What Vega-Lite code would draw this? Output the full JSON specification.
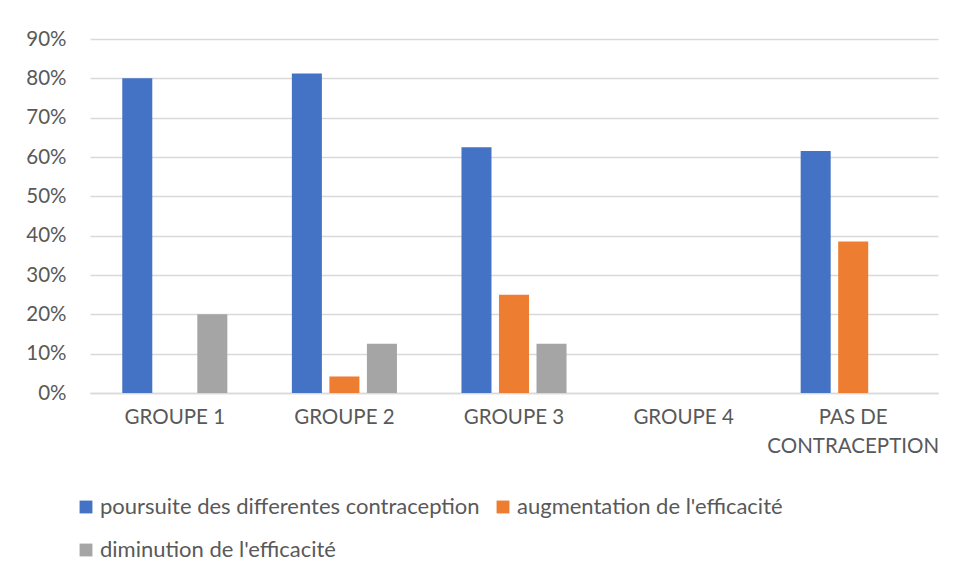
{
  "$schema": "https://vega.github.io/schema/vega-lite/v6.json",
  "autosize": {"type": "none"},
  "width": 848,
  "height": 354,
  "padding": {"left": 90, "top": 39, "right": 17, "bottom": 185},
  "background": "white",
  "config": {
    "view": {"stroke": null},
    "font": "Lato",
    "axis": {"labelFont": "Lato", "labelColor": "#595959", "labelFontSize": 20.5},
    "legend": {"labelFont": "Lato", "labelColor": "#595959", "labelFontSize": 22}
  },
  "data": {
    "values": [
      {"groupe": "GROUPE 1", "serie": "poursuite des differentes contraception", "valeur": 0.80},
      {"groupe": "GROUPE 1", "serie": "diminution de l'efficacité", "valeur": 0.20},
      {"groupe": "GROUPE 2", "serie": "poursuite des differentes contraception", "valeur": 0.8125},
      {"groupe": "GROUPE 2", "serie": "augmentation de l'efficacité", "valeur": 0.042},
      {"groupe": "GROUPE 2", "serie": "diminution de l'efficacité", "valeur": 0.125},
      {"groupe": "GROUPE 3", "serie": "poursuite des differentes contraception", "valeur": 0.625},
      {"groupe": "GROUPE 3", "serie": "augmentation de l'efficacité", "valeur": 0.25},
      {"groupe": "GROUPE 3", "serie": "diminution de l'efficacité", "valeur": 0.125},
      {"groupe": "PAS DE CONTRACEPTION", "serie": "poursuite des differentes contraception", "valeur": 0.615},
      {"groupe": "PAS DE CONTRACEPTION", "serie": "augmentation de l'efficacité", "valeur": 0.385}
    ]
  },
  "mark": {"type": "bar"},
  "encoding": {
    "x": {
      "field": "groupe",
      "type": "nominal",
      "title": null,
      "scale": {"domain": ["GROUPE 1", "GROUPE 2", "GROUPE 3", "GROUPE 4", "PAS DE CONTRACEPTION"], "paddingInner": 0, "paddingOuter": 0},
      "axis": {
        "labelAngle": 0,
        "ticks": false,
        "domain": true,
        "domainColor": "#d9d9d9",
        "domainWidth": 1.5,
        "labelPadding": 14,
        "labelLineHeight": 29,
        "labelBaseline": "top",
        "labelExpr": "datum.value == 'PAS DE CONTRACEPTION' ? ['PAS DE', 'CONTRACEPTION'] : datum.value"
      }
    },
    "xOffset": {
      "field": "serie",
      "type": "nominal",
      "scale": {"domain": ["poursuite des differentes contraception", "augmentation de l'efficacité", "diminution de l'efficacité"], "paddingInner": 0.2, "paddingOuter": 0.86}
    },
    "y": {
      "field": "valeur",
      "type": "quantitative",
      "title": null,
      "scale": {"domain": [0, 0.9], "nice": false},
      "axis": {
        "format": ".0%",
        "values": [0, 0.1, 0.2, 0.3, 0.4, 0.5, 0.6, 0.7, 0.8, 0.9],
        "ticks": false,
        "domain": false,
        "grid": true,
        "gridColor": "#d9d9d9",
        "gridWidth": 1.5,
        "labelPadding": 24
      }
    },
    "color": {
      "field": "serie",
      "type": "nominal",
      "scale": {
        "domain": ["poursuite des differentes contraception", "augmentation de l'efficacité", "diminution de l'efficacité"],
        "range": ["#4472C4", "#ED7D31", "#A5A5A5"]
      },
      "legend": {
        "title": null,
        "orient": "none",
        "legendX": -15,
        "legendY": 457,
        "direction": "horizontal",
        "columns": 2,
        "symbolType": "square",
        "symbolSize": 165,
        "symbolStrokeWidth": 0,
        "labelOffset": 3,
        "rowPadding": 21,
        "columnPadding": 12,
        "labelLimit": 600
      }
    }
  }
}
